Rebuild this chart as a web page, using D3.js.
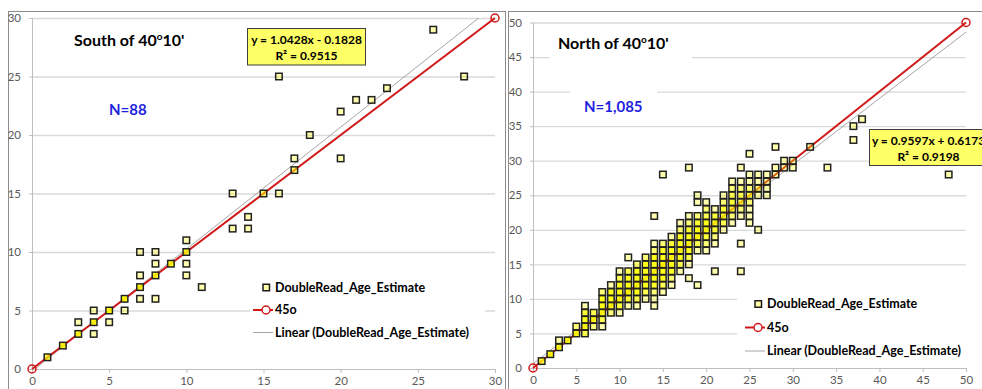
<!DOCTYPE html>
<html><head><meta charset="utf-8">
<script src="https://cdn.jsdelivr.net/npm/d3@7/dist/d3.min.js"></script>
<style>
body{margin:0;background:#fff}
svg{display:block;font-family:Lato,'Open Sans',sans-serif}
</style>
</head><body>
<svg id="chart" width="982" height="389"></svg>
<script>
// ---------- data ----------
const southTicks = [0,5,10,15,20,25,30];
const northTicks = [0,5,10,15,20,25,30,35,40,45,50];

// South of 40°10' : first read (x), second read (y), number of fish at that point
const southX = [1,2,3,3,4,4,4,5,5,6,6,7,7,7,7,8,8,8,8,9,10,10,10,10,11,13,13,14,14,15,16,16,17,17,18,20,20,21,22,23,26,28];
const southY = [1,2,4,3,5,4,3,5,4,6,5,10,8,7,6,10,9,8,6,9,11,10,9,8,7,15,12,13,12,15,15,25,17,18,20,18,22,23,23,24,29,25];
const southN = [3,6,1,6,1,7,1,7,1,6,1,1,1,5,1,1,1,5,1,5,1,4,1,1,1,1,1,1,1,2,1,1,2,1,1,1,1,1,1,1,1,1];

// North of 40°10'
const northX = [
 1, 2, 3,3, 4, 5,5,
 6,6,6,6,6, 7,7,7, 8,8,8,8,8,8, 9,9,9,9,9,
 10,10,10,10,10,10,10, 11,11,11,11,11,11,11, 12,12,12,12,12,12,12,
 13,13,13,13,13,13,13, 14,14,14,14,14,14,14,14,14,14,14,
 15,15,15,15,15,15,15,15,15, 16,16,16,16,16,16,16,16,
 17,17,17,17,17,17,17,17, 18,18,18,18,18,18,18,18,18,18,
 19,19,19,19,19,19,19,19,19, 20,20,20,20,20,20,20,20,
 21,21,21,21,21,21,21, 22,22,22,22,22,22, 23,23,23,23,23,23,23,
 24,24,24,24,24,24,24,24,24, 25,25,25,25,25,25,25,25,25,
 26,26,26,26,26, 27,27,27,27, 28,28,28, 29,29, 30,30,
 32, 34, 37,37, 38, 48];
const northY = [
 1, 2, 3,4, 4, 5,6,
 5,6,7,8,9, 6,7,8, 6,7,8,9,10,11, 8,9,10,11,12,
 8,9,10,11,12,13,14, 9,10,11,12,13,14,16, 9,10,11,12,13,14,15,
 10,11,12,13,14,15,16, 9,10,11,12,13,14,15,16,17,18,22,
 11,12,13,14,15,16,17,18,28, 12,13,14,15,16,17,18,19,
 14,15,16,17,18,19,20,21, 13,15,16,17,18,19,20,21,22,29,
 12,17,18,19,20,21,22,24,25, 17,18,19,20,21,22,23,24,
 14,18,19,20,21,22,23, 20,21,22,23,24,25, 21,22,23,24,25,26,27,
 14,18,22,23,24,25,26,27,29, 21,22,23,24,25,26,27,28,31,
 20,25,26,27,28, 25,26,27,28, 28,29,32, 29,30, 29,30,
 32, 29, 33,35, 36, 28];
const northN = [
 4, 6, 8,1, 8, 10,2,
 3,8,8,4,1, 2,8,3, 1,3,8,10,6,2, 2,8,12,6,1,
 1,4,10,12,8,3,1, 1,4,10,14,8,3,1, 1,3,6,12,14,8,2,
 1,3,8,14,14,6,2, 1,1,2,5,10,15,12,6,2,1,1,
 1,3,6,10,16,12,5,2,1, 1,2,5,10,14,10,4,1,
 1,3,6,12,10,6,2,1, 1,1,3,6,10,8,4,2,1,1,
 1,1,3,6,8,4,2,1,1, 1,2,4,6,6,3,2,1,
 1,1,2,4,5,4,1, 1,3,4,4,2,1, 1,2,3,4,3,2,1,
 1,1,1,2,3,3,2,1,1, 1,1,1,2,3,2,1,1,1,
 1,1,2,1,1, 1,1,1,1, 1,1,1, 1,1, 1,1,
 1, 1, 1,1, 1, 1];

// trend line coefficients (from the chart labels)
const southFit = {slope:1.0428, intercept:-0.1828, label:"y = 1.0428x - 0.1828", r2:"R\u00b2 = 0.9515"};
const northFit = {slope:0.9597, intercept:0.6173, label:"y = 0.9597x + 0.6173", r2:"R\u00b2 = 0.9198"};
const legendLabels = ["DoubleRead_Age_Estimate","45o","Linear (DoubleRead_Age_Estimate)"];

// ---------- drawing ----------
const svg = d3.select("#chart");
svg.append("rect").attr("width",982).attr("height",389).attr("fill","#fff");

// overlapping semi-transparent markers: combined opacity of n stacked squares
const stackOpacity = n => Math.min(0.9, 1 - Math.pow(0.68, n));

function panel(o){
  const g = svg.append("g");
  g.append("rect").attr("x",o.frame[0]).attr("y",o.frame[1]).attr("width",o.frame[2]).attr("height",o.frame[3])
    .attr("fill","#fff").attr("stroke","#8c8c8c").attr("stroke-width",1);
  const x = d3.scaleLinear().domain([0,o.max]).range(o.xr);
  const y = d3.scaleLinear().domain([0,o.max]).range(o.yr);
  const id = "clip"+o.name;
  svg.append("clipPath").attr("id",id).append("rect")
    .attr("x",o.xr[0]).attr("y",o.yr[1]).attr("width",o.xr[1]-o.xr[0]).attr("height",o.yr[0]-o.yr[1]);

  // gridlines
  const grid = g.append("g").attr("transform",`translate(${o.xr[0]},0)`)
    .call(d3.axisLeft(y).tickValues(o.ticks.slice(1)).tickSize(-(o.xr[1]-o.xr[0])).tickFormat(""));
  grid.select(".domain").remove();
  grid.selectAll("line").attr("stroke","#d9d9d9").attr("stroke-width",1.3);

  // y axis
  const ya = g.append("g").attr("transform",`translate(${o.xr[0]},0)`)
    .call(d3.axisLeft(y).tickValues(o.ticks).tickSize(3).tickSizeOuter(0).tickPadding(8));
  ya.select(".domain").attr("stroke","#bfbfbf");
  ya.selectAll("line").attr("stroke","#bfbfbf");
  ya.selectAll("text").attr("fill","#595959").attr("font-size",11.5).attr("font-family","Lato,sans-serif");
  // x axis
  const xa = g.append("g").attr("transform",`translate(0,${o.yr[0]})`)
    .call(d3.axisBottom(x).tickValues(o.ticks).tickSize(4).tickSizeOuter(0).tickPadding(4));
  xa.select(".domain").attr("stroke","#bfbfbf");
  xa.selectAll("line").attr("stroke","#bfbfbf");
  xa.selectAll("text").attr("fill","#595959").attr("font-size",11.5).attr("font-family","Lato,sans-serif");

  // label boxes (white backgrounds that hide gridlines)
  o.boxes.forEach(b=>g.append("rect").attr("x",b[0]).attr("y",b[1]).attr("width",b[2]).attr("height",b[3]).attr("fill","#fff"));

  const plot = g.append("g").attr("clip-path",`url(#${id})`);
  // 45 degree line
  g.append("line").attr("x1",x(0)).attr("y1",y(0)).attr("x2",x(o.max)).attr("y2",y(o.max))
    .attr("stroke","#d01818").attr("stroke-width",2);
  // trend line
  plot.append("line").attr("x1",x(0)).attr("y1",y(o.fit.intercept))
    .attr("x2",x(o.max)).attr("y2",y(o.fit.slope*o.max+o.fit.intercept))
    .attr("stroke","#a6a6a6").attr("stroke-width",1);
  // endpoints of 45o line
  [0,o.max].forEach(v=>g.append("circle").attr("cx",x(v)).attr("cy",y(v)).attr("r",4)
    .attr("fill","none").attr("stroke","#d01818").attr("stroke-width",1.5));

  // markers
  const pts = o.X.map((vx,i)=>({x:vx, y:o.Y[i], n:o.N[i]}));
  const s = 6.5;
  g.append("g").selectAll("rect").data(pts).join("rect")
    .attr("x",d=>x(d.x)-s/2).attr("y",d=>y(d.y)-s/2).attr("width",s).attr("height",s)
    .attr("fill","#ffff00").attr("fill-opacity",d=>stackOpacity(d.n))
    .attr("stroke","#222").attr("stroke-width",1.5);

  // title
  const t = g.append("text").attr("x",o.title[0]).attr("y",o.title[1]).attr("font-size",16)
    .attr("font-weight","bold").attr("fill","#000");
  t.append("tspan").text(o.titleText+" of 40");
  t.append("tspan").text("o").attr("font-size",10).attr("dy",-6);
  t.append("tspan").text("10'").attr("dy",6);
  g.append("text").attr("x",o.nPos[0]).attr("y",o.nPos[1]).attr("font-size",15).attr("font-weight","bold")
    .attr("fill","#1f1fe0").text(o.nText);

  // equation box
  const e = o.eq;
  g.append("rect").attr("x",e[0]).attr("y",e[1]).attr("width",e[2]).attr("height",e[3])
    .attr("fill","#ffff66").attr("stroke","#404040").attr("stroke-width",1);
  g.append("text").attr("x",e[0]+e[2]/2).attr("y",e[1]+15.5).attr("text-anchor","middle")
    .attr("font-size",12).attr("font-weight","bold").text(o.fit.label);
  g.append("text").attr("x",e[0]+e[2]/2).attr("y",e[1]+31).attr("text-anchor","middle")
    .attr("font-size",12).attr("font-weight","bold").text(o.fit.r2);

  // legend
  const L = o.legend; // [lineStartX, textX, row1Y, rowStep]
  const lx = L[0], tx = L[1];
  const rows = [L[2], L[2]+L[3], L[2]+2*L[3]];
  g.append("rect").attr("x",lx+4).attr("y",rows[0]-s/2).attr("width",s).attr("height",s)
    .attr("fill","#ffffa8").attr("stroke","#1a1a1a").attr("stroke-width",1.5);
  g.append("line").attr("x1",lx-6).attr("x2",tx-2).attr("y1",rows[1]).attr("y2",rows[1])
    .attr("stroke","#d01818").attr("stroke-width",2);
  g.append("circle").attr("cx",lx+7).attr("cy",rows[1]).attr("r",4).attr("fill","#fff")
    .attr("stroke","#d01818").attr("stroke-width",1.5);
  g.append("line").attr("x1",lx-6).attr("x2",tx-2).attr("y1",rows[2]).attr("y2",rows[2])
    .attr("stroke","#a6a6a6").attr("stroke-width",1);
  legendLabels.forEach((lab,i)=>g.append("text").attr("x",tx).attr("y",rows[i]).attr("dy","0.35em")
    .attr("font-size",12.5).attr("font-weight","bold").attr("fill","#000").text(lab));
}

panel({name:"s", max:30, ticks:southTicks, xr:[32,495], yr:[369,18],
  frame:[8.5,11.5,497,420], X:southX, Y:southY, N:southN, fit:southFit,
  titleText:"South", title:[74,46], nText:"N=88", nPos:[109,115],
  eq:[247.5,28.5,118,36.5], boxes:[[250,276,235,68]], legend:[259,275,287.5,22.5]});

panel({name:"n", max:50, ticks:northTicks, xr:[533,966], yr:[368,22.5],
  frame:[508.5,11.5,500,420], X:northX, Y:northY, N:northN, fit:northFit,
  titleText:"North", title:[558,49], nText:"N=1,085", nPos:[584,112],
  eq:[869.5,129.5,118,36], boxes:[[550,30,142,30],[570,88,87,32],[737,288,235,74]],
  legend:[751,767,304,23.5]});
</script>
</body></html>
